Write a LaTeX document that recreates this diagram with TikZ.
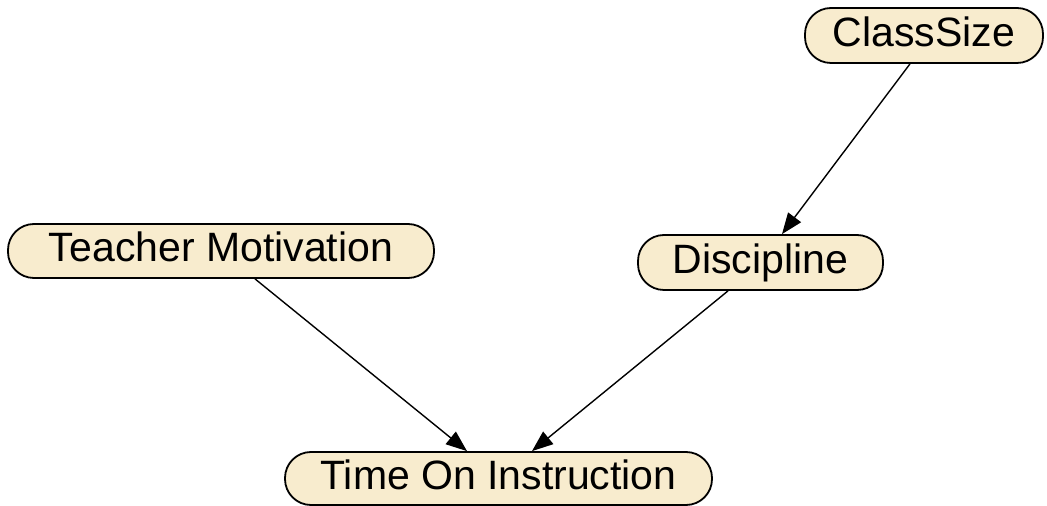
\documentclass[tikz,border=0pt]{standalone}
\usepackage{fontspec}
\setmainfont{Liberation Sans}
\usetikzlibrary{arrows.meta}
\definecolor{nodefill}{RGB}{248,236,206}
\tikzset{
  varnode/.style={draw=black, line width=1.8pt, fill=nodefill, rounded corners=26pt,
    inner sep=0pt, text height=30pt, text depth=8pt, font=\fontsize{41}{41}\selectfont},
  edge/.style={line width=1.4pt, -{Triangle[length=21pt,width=16pt]}}
}
\begin{document}
\begin{tikzpicture}[x=1pt,y=1pt]
\useasboundingbox (0,0) rectangle (1047,506);
\node[varnode, minimum width=238pt, minimum height=55pt] (cs) at (924,470.5) {ClassSize};
\node[varnode, minimum width=245pt, minimum height=55pt] (disc) at (760.5,243.5) {Discipline};
\node[varnode, minimum width=426pt, minimum height=54pt] (tm) at (221,255) {Teacher Motivation};
\node[varnode, minimum width=427pt, minimum height=53pt] (time) at (498.5,27.5) {Time On Instruction};
\draw[edge] ([xshift=-14pt]cs.south) -- ([xshift=21.5pt]disc.north);
\draw[edge] ([xshift=34pt]tm.south) -- ([xshift=-31.5pt]time.north);
\draw[edge] ([xshift=-32.5pt]disc.south) -- ([xshift=33.5pt]time.north);
\end{tikzpicture}
\end{document}
